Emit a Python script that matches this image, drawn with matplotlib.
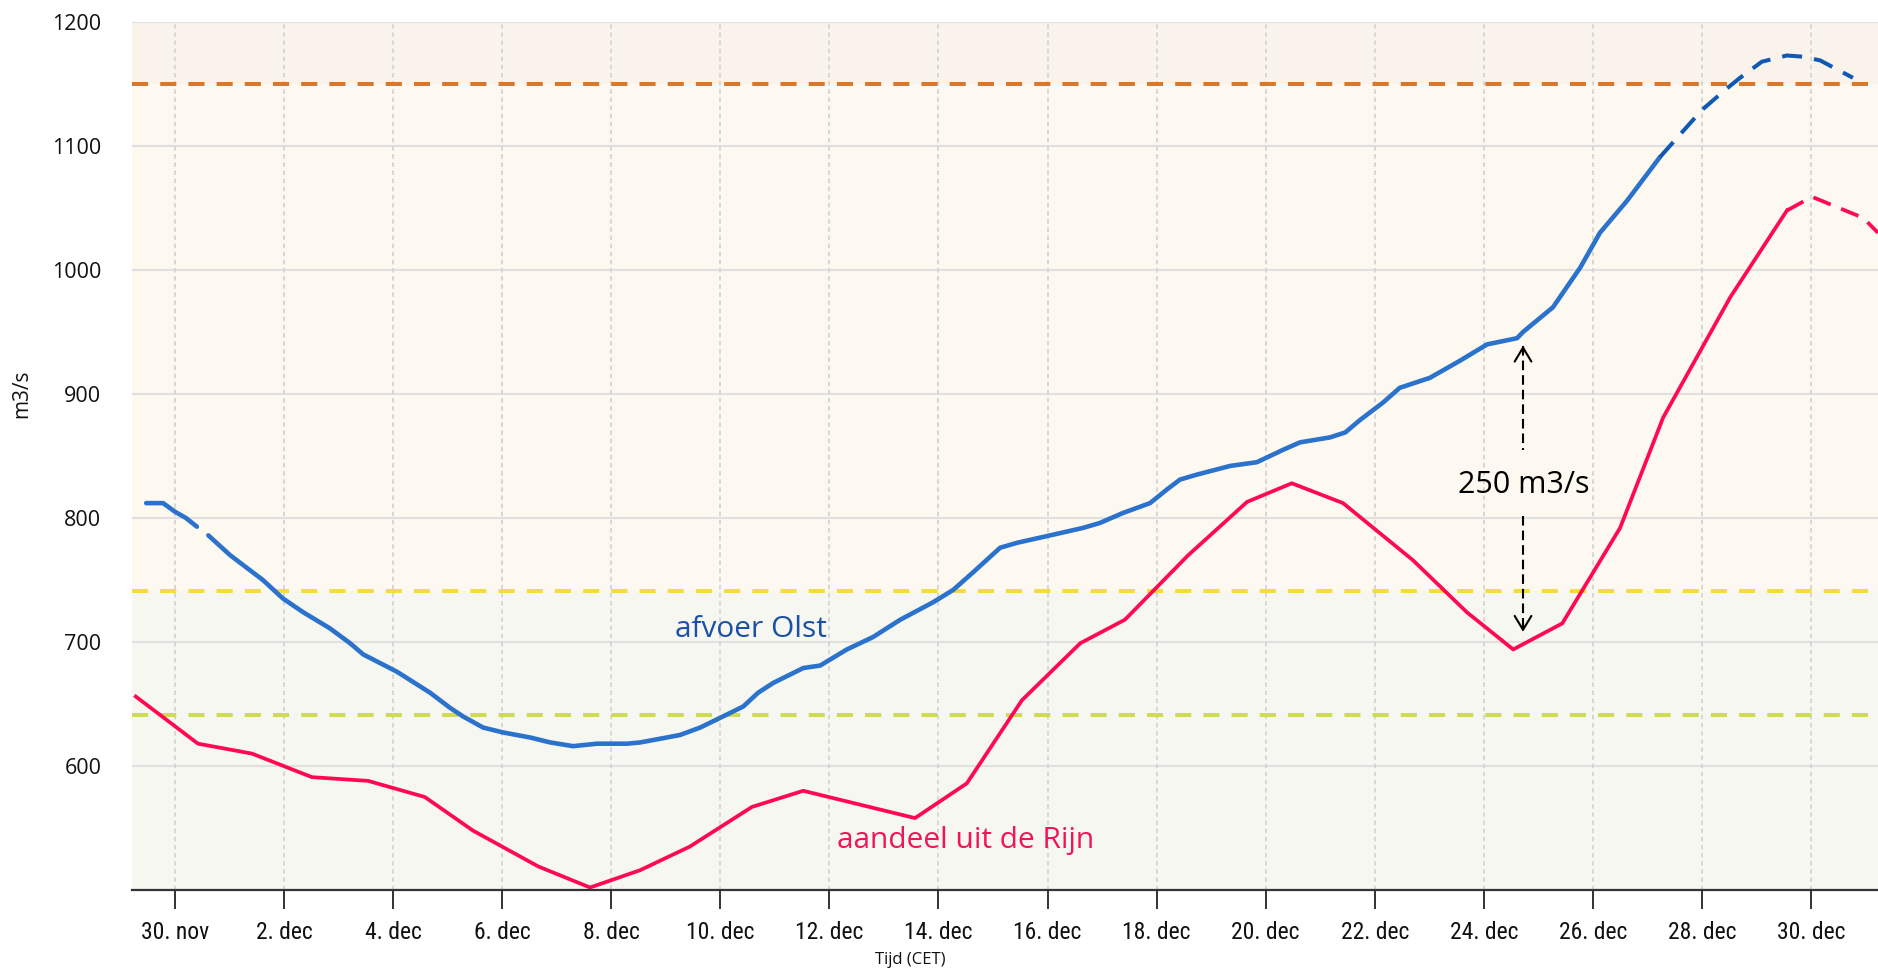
import numpy as np
import matplotlib
matplotlib.use("Agg")
import matplotlib.pyplot as plt
from matplotlib import font_manager as fm

# ---------------- data (days since 30 nov 00:00, m3/s) ----------------
tick_days = [0, 2, 4, 6, 8, 10, 12, 14, 16, 18, 20, 22, 24, 26, 28, 30]
tick_labels = ["30. nov", "2. dec", "4. dec", "6. dec", "8. dec", "10. dec",
               "12. dec", "14. dec", "16. dec", "18. dec", "20. dec",
               "22. dec", "24. dec", "26. dec", "28. dec", "30. dec"]
y_ticks = [600, 700, 800, 900, 1000, 1100, 1200]

# afvoer Olst (measured, first piece before the small data gap)
olst_days_1 = [-0.53, -0.22, 0.00, 0.20, 0.40]
olst_vals_1 = [812, 812, 805, 800, 793]
# afvoer Olst (measured, after the gap)
olst_days_2 = [0.61, 1.01, 1.61, 1.98, 2.35, 2.84, 3.21, 3.45, 4.07, 4.68,
               5.04, 5.28, 5.65, 6.02, 6.51, 6.88, 7.30, 7.74, 8.29, 8.53,
               9.26, 9.63, 10.05, 10.42, 10.69, 10.97, 11.52, 11.83, 12.32,
               12.80, 13.30, 13.90, 14.27, 14.63, 15.13, 15.44, 16.05, 16.65,
               16.96, 17.38, 17.88, 18.19, 18.43, 18.74, 19.35, 19.84, 20.32,
               20.63, 21.18, 21.46, 21.73, 22.15, 22.46, 23.01, 23.57, 24.06,
               24.61, 24.72, 25.27, 25.77, 26.13, 26.63, 27.23]
olst_vals_2 = [786, 770, 750, 735, 724, 711, 699, 690, 676, 659,
               647, 640, 631, 627, 623, 619, 616, 618, 618, 619,
               625, 631, 640, 648, 659, 667, 679, 681, 694,
               704, 718, 732, 742, 756, 776, 780, 786, 792,
               796, 804, 812, 823, 831, 835, 842, 845, 855,
               861, 865, 869, 879, 893, 905, 913, 927, 940,
               945, 950, 970, 1002, 1030, 1056, 1091]
# afvoer Olst (forecast)
olst_fc_days = [27.23, 28.00, 28.42, 28.70, 29.10, 29.56, 29.86, 30.17, 30.77]
olst_fc_vals = [1091, 1129, 1145, 1155, 1168, 1173, 1172, 1169, 1155]

# aandeel uit de Rijn (measured)
rijn_days = [-0.72, 0.42, 1.41, 2.51, 3.54, 4.58, 5.46, 6.66, 7.61, 8.53,
             9.44, 10.58, 11.52, 13.57, 14.52, 15.53, 16.60, 17.42, 18.58,
             19.66, 20.48, 21.42, 22.70, 23.69, 24.54, 25.44, 26.50, 27.29,
             28.52, 29.56]
rijn_vals = [656, 618, 610, 591, 588, 575, 548, 519, 502, 516,
             535, 567, 580, 558, 586, 653, 699, 718, 770,
             813, 828, 812, 766, 724, 694, 715, 792, 881,
             978, 1048]
# aandeel uit de Rijn (forecast)
rijn_fc_days = [29.56, 30.02, 30.96, 31.23]
rijn_fc_vals = [1048, 1059, 1042, 1030]

# threshold levels
level_high = 1150
level_mid = 741
level_low = 641

# annotation
arrow_day = 24.72
diff_label = "250 m3/s"

# ---------------- fonts ----------------
names = {f.name for f in fm.fontManager.ttflist}
main_font = ["Open Sans", "DejaVu Sans"]
cond_kw = {"family": ["Open Sans", "DejaVu Sans"]}
for cand in ["Liberation Sans Narrow", "Roboto Condensed", "Open Sans Condensed",
             "DejaVu Sans Condensed"]:
    if cand in names:
        cond_kw = {"family": [cand, "DejaVu Sans"]}
        break
else:
    if any(f.name == "DejaVu Sans" and "condensed" in str(f.stretch)
           for f in fm.fontManager.ttflist):
        cond_kw = {"family": ["DejaVu Sans"], "stretch": "condensed"}

plt.rcParams["font.family"] = main_font

W, H = 1878, 969
fig = plt.figure(figsize=(W / 100, H / 100), dpi=100)
fig.patch.set_facecolor("white")
L, B, T = 132, 890, 22
ax = fig.add_axes([L / W, 1 - B / H, 1 - L / W, (B - T) / H])

xmin, xmax = -0.79, 31.23
ymin, ymax = 500, 1200
ax.set_xlim(xmin, xmax)
ax.set_ylim(ymin, ymax)

# background bands
ax.axhspan(ymin, level_mid, color="#f6f7f0", zorder=0, lw=0)
ax.axhspan(level_mid, level_high, color="#fdf9f0", zorder=0, lw=0)
ax.axhspan(level_high, ymax, color="#faf3ec", zorder=0, lw=0)

# grid
for yv in y_ticks + [ymin]:
    ax.axhline(yv, color="#e0e0e0", lw=1.5, zorder=1)
for xv in tick_days:
    ax.axvline(xv, color="#d4d4d4", lw=1.3, ls=(0, (2.5, 2)), zorder=1)

# threshold lines
ax.axhline(level_high, color="#d9782b", lw=2.9, dashes=(4, 3), zorder=2)
ax.axhline(level_mid, color="#f5dc3c", lw=2.9, dashes=(4, 3), zorder=2)
ax.axhline(level_low, color="#cfdc52", lw=2.9, dashes=(4, 3), zorder=2)

# series
blue = "#2b72cc"
blue_dark = "#0f59b2"
red = "#ff0a52"
ax.plot(olst_days_1, olst_vals_1, color=blue, lw=3.3, zorder=4,
        solid_capstyle="round")
ax.plot(olst_days_2, olst_vals_2, color=blue, lw=3.3, zorder=4,
        solid_capstyle="round")
ax.plot(olst_fc_days, olst_fc_vals, color=blue_dark, lw=2.9, dashes=(5, 3),
        zorder=4)
ax.plot(rijn_days, rijn_vals, color=red, lw=2.7, zorder=3)
ax.plot(rijn_fc_days, rijn_fc_vals, color=red, lw=2.7, dashes=(5, 3), zorder=3)

# series labels
ax.text(10.56, 704, "afvoer Olst", color="#1a50a6", fontsize=21.5,
        ha="center", va="baseline", zorder=5)
ax.text(14.49, 534, "aandeel uit de Rijn", color="#f0145a", fontsize=21.5,
        ha="center", va="baseline", zorder=5)

# difference annotation
all_bd = olst_days_1 + olst_days_2
all_bv = olst_vals_1 + olst_vals_2
top_v = np.interp(arrow_day, all_bd, all_bv) - 11
bot_v = np.interp(arrow_day, rijn_days, rijn_vals) + 10
ax.plot([arrow_day, arrow_day], [top_v, 855], color="black", lw=1.5,
        dashes=(4.6, 2.4), zorder=5)
ax.plot([arrow_day, arrow_day], [802, bot_v], color="black", lw=1.5,
        dashes=(4.6, 2.4), zorder=5)
ax.annotate("", xy=(arrow_day, top_v), xytext=(arrow_day, top_v - 6),
            arrowprops=dict(arrowstyle="->,head_length=0.5,head_width=0.3",
                            color="black", lw=1.5, mutation_scale=20,
                            shrinkA=0, shrinkB=0), zorder=6)
ax.annotate("", xy=(arrow_day, bot_v), xytext=(arrow_day, bot_v + 6),
            arrowprops=dict(arrowstyle="->,head_length=0.5,head_width=0.3",
                            color="black", lw=1.5, mutation_scale=20,
                            shrinkA=0, shrinkB=0), zorder=6)
ax.text(arrow_day + 0.02, 820, diff_label, color="black", fontsize=22,
        ha="center", va="baseline", zorder=6)

# axes styling
for s in ["top", "right", "left"]:
    ax.spines[s].set_visible(False)
ax.spines["bottom"].set_color("#333333")
ax.spines["bottom"].set_linewidth(1.6)
ax.spines["bottom"].set_zorder(7)

ax.set_yticks(y_ticks)
ax.set_yticklabels([str(v) for v in y_ticks], fontsize=15.5, color="#111111")
ax.tick_params(axis="y", length=0, pad=22)

ax.set_xticks(tick_days)
ax.set_xticklabels(tick_labels, color="#111111", fontsize=17, **cond_kw)
ax.tick_params(axis="x", length=13.5, width=1.4, color="#333333", pad=9,
               direction="out")

fig.text(22 / W, 1 - 394 / H, "m3/s", rotation=90, fontsize=15,
         ha="center", va="center", color="#111111")
fig.text(910 / W, 1.5 / H, "Tijd (CET)", fontsize=12,
         ha="center", va="bottom", color="#111111")

fig.savefig("out.png", dpi=100, facecolor="white")
